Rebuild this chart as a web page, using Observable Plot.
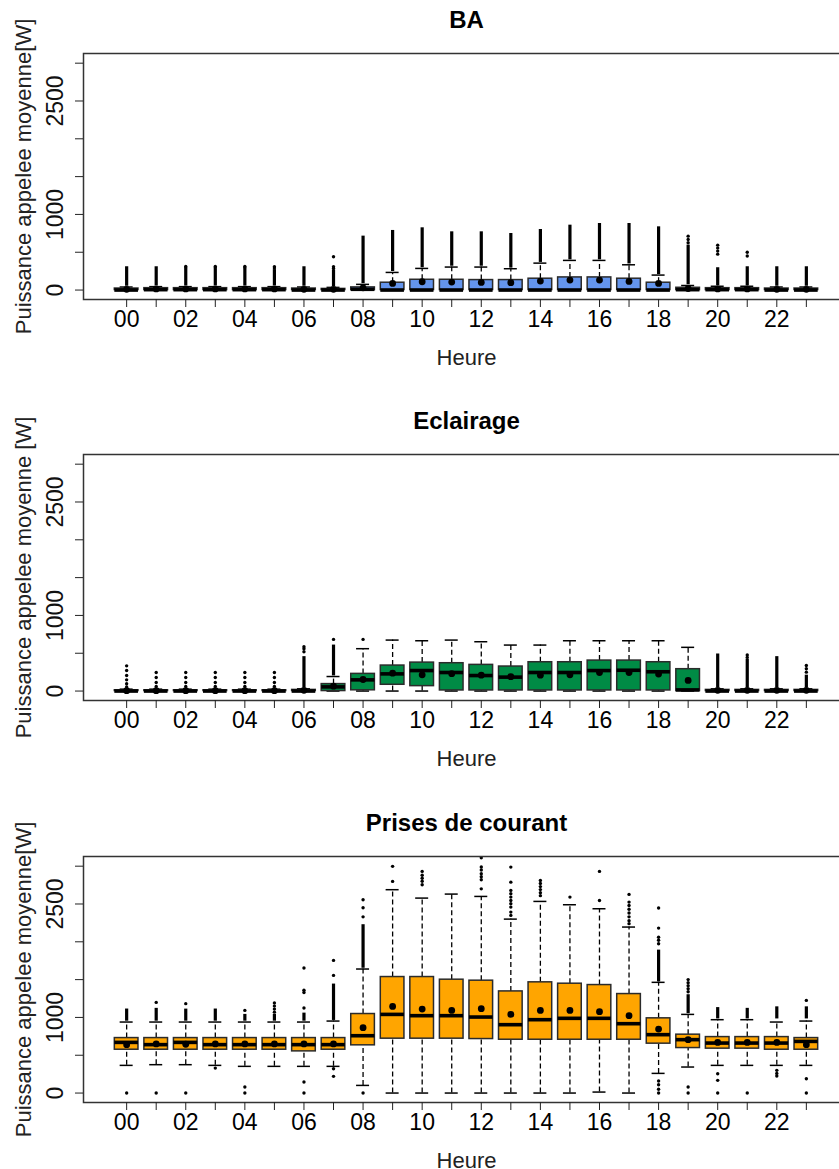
<!DOCTYPE html>
<html><head><meta charset="utf-8">
<script src="https://cdn.jsdelivr.net/npm/d3@7"></script>
<script src="https://cdn.jsdelivr.net/npm/@observablehq/plot@0.6"></script>
<style>
html,body{margin:0;padding:0;background:#fff;overflow:hidden;}
#root{width:839px;height:1169px;overflow:hidden;}
#root svg{display:block;max-width:none !important;}
</style></head><body><div id="root"></div>
<script>
const hours = ["00","01","02","03","04","05","06","07","08","09","10","11","12","13","14","15","16","17","18","19","20","21","22","23"];
const yTicks = [0,500,1000,1500,2000,2500,3000];
const yLabels = [0,1000,2500];

// BA
const baQ1   = [0,0,0,0,0,0,0,0,0, 0,0,0,0,0,0,0,0,0,0, 0,0,0,0,0];
const baMed  = [0,5,5,5,5,5,0,0,10, 0,0,0,0,0,0,0,0,0,0, 5,5,5,0,0];
const baQ3   = [20,25,25,25,25,25,20,15,35, 97,136,136,132,132,150,167,167,150,97, 30,25,25,20,20];
const baLo   = [0,0,0,0,0,0,0,0,0, 0,0,0,0,0,0,0,0,0,0, 0,0,0,0,0];
const baHi   = [40,45,45,45,45,45,40,35,75, 233,286,304,304,282,356,392,392,334,198, 60,50,50,40,40];
const baMean = [10,15,15,15,15,15,10,10,30, 88,110,106,101,97,119,132,132,114,88, 20,15,15,10,10];
const baRuns = [[0,50,308],[1,55,308],[2,55,280],[3,55,280],[4,55,280],[5,55,270],[6,50,308],[7,45,265],[8,85,713],[9,245,788],[10,295,823],[11,315,770],[12,315,770],[13,290,748],[14,365,801],[15,400,858],[16,400,880],[17,345,880],[18,205,836],[19,70,594],[20,60,295],[21,60,308],[22,50,308],[23,50,308]];
const baPoints = [[2,312],[2,296],[3,312],[3,296],[4,312],[4,296],[5,308],[5,290],[7,440],[7,308],[7,285],[19,713],[19,669],[19,625],[20,594],[20,555],[20,515],[20,475],[21,500],[21,450]];

// Eclairage
const ecQ1   = [0,0,0,0,0,0,0,0,10, 83,65,8,8,8,8,8,8,8,8, 0,0,0,0,0];
const ecMed  = [0,0,0,0,0,0,0,55,148, 227,271,245,205,184,245,245,271,275,255, 15,0,0,0,0];
const ecQ3   = [10,10,10,10,10,10,15,92,227, 337,376,368,346,324,381,381,403,403,381, 289,15,15,15,15];
const ecLo   = [0,0,0,0,0,0,0,0,0, 0,0,0,0,0,0,0,0,0,0, 0,0,0,0,0];
const ecHi   = [25,25,25,25,25,25,30,192,560, 674,665,674,652,608,608,665,665,665,665, 578,30,30,30,30];
const ecMean = [5,5,5,5,5,5,10,65,153, 236,214,230,210,190,210,215,245,245,225, 140,10,10,10,10];
const ecRuns = [[6,40,455],[7,200,608],[20,40,490],[21,40,420],[22,40,455],[23,40,210]];
const ecPoints = [[0,333],[0,271],[0,205],[0,148],[0,96],[0,53],
  [1,245],[1,179],[1,113],[1,60],[2,245],[2,179],[2,113],[2,60],[3,245],[3,179],[3,113],[3,60],
  [4,245],[4,179],[4,113],[4,60],[5,245],[5,179],[5,113],[5,60],
  [6,586],[6,560],[6,520],[7,683],[8,683],[21,477],[21,445],[23,337],[23,295],[23,250]];

// Prises de courant
const prQ1   = [573,573,573,573,573,573,551,573,631, 719,719,719,714,705,705,705,705,705,653, 595,587,587,573,573];
const prMed  = [670,640,670,640,640,640,640,640,758, 1040,1023,1023,1005,904,970,988,988,917,772, 706,661,661,661,683];
const prQ3   = [727,727,727,727,727,727,727,727,1045, 1534,1534,1499,1486,1344,1464,1446,1428,1309,988, 772,740,740,740,727];
const prLo   = [366,375,375,366,353,353,353,353,101, 0,0,0,0,0,0,0,13,0,260, 344,366,366,366,366];
const prHi   = [939,939,939,939,939,939,939,952,1640, 2689,2578,2631,2600,2300,2534,2490,2437,2195,1464, 1040,970,970,939,952];
const prMean = [640,650,645,650,650,650,650,650,864, 1146,1111,1093,1116,1040,1093,1093,1076,1023,846, 706,670,670,670,639];
const prRuns = [[0,950,1111],[1,950,1120],[2,950,1110],[3,950,1111],[4,950,1040],[5,950,1040],[6,950,1057],[7,960,1441],[8,1650,2226],[18,1470,1890],[19,1050,1300],[20,980,1130],[21,980,1120],[22,980,1140],[23,980,1140]];
const prPoints = [[0,0],[1,1199],[1,0],[2,1182],[2,0],[3,330],[4,1093],[4,79],[4,0],[5,1190],[5,1150],[5,1110],[5,1070],
  [6,1653],[6,1360],[6,1330],[6,1124],[6,146],[6,0],[7,1754],[7,1556],[7,322],[7,221],[8,2556],[8,2450],[8,2330],[8,0],
  [9,2799],[9,2998],[10,2931],[10,2880],[10,2840],[10,2800],[10,2755],
  [12,3110],[12,2990],[12,2950],[12,2900],[12,2860],[12,2820],[12,2700],
  [13,2988],[13,2789],[13,2680],[13,2636],[13,2591],[13,2547],[13,2503],[13,2459],[13,2393],[13,2349],
  [14,2810],[14,2770],[14,2730],[14,2690],[14,2650],[14,2610],[15,2591],[16,2931],[16,2547],
  [17,2627],[17,2525],[17,2480],[17,2430],[17,2380],[17,2330],[17,2280],[17,2240],
  [18,2446],[18,2181],[18,2060],[18,2020],[18,1975],[18,160],[18,110],[18,50],[18,0],
  [19,1500],[19,1460],[19,1420],[19,1380],[19,1340],[19,79],[19,0],[20,256],[20,168],[20,0],[21,0],
  [22,300],[22,260],[22,225],[23,1225],[23,190],[23,0]];

const panels = [
  {title:"BA", ytitle:"Puissance appelee moyenne[W]", fill:"#6495ED", q1:baQ1, med:baMed, q3:baQ3, lo:baLo, hi:baHi, mean:baMean, runs:baRuns, points:baPoints, height:401},
  {title:"Eclairage", ytitle:"Puissance appelee moyenne [W]", fill:"#008B45", q1:ecQ1, med:ecMed, q3:ecQ3, lo:ecLo, hi:ecHi, mean:ecMean, runs:ecRuns, points:ecPoints, height:402},
  {title:"Prises de courant", ytitle:"Puissance appelee moyenne[W]", fill:"#FFA500", q1:prQ1, med:prMed, q3:prQ3, lo:prLo, hi:prHi, mean:prMean, runs:prRuns, points:prPoints, height:366}
];

const BOX = 0.4, CAP = 0.22;
const root = document.getElementById("root");

for (const p of panels) {
  const rows = hours.map((lab, i) => ({h: i, q1: p.q1[i], med: p.med[i], q3: p.q3[i], lo: p.lo[i], hi: p.hi[i], mean: p.mean[i]}));
  const runs = p.runs.map(([h, a, b]) => ({h, a, b}));
  const pts = p.points.map(([h, v]) => ({h, v}));
  const chart = Plot.plot({
    width: 849,
    height: p.height,
    marginLeft: 83,
    marginRight: 0,
    marginTop: 53,
    marginBottom: p.height - 299,
    style: {fontFamily: "'Liberation Sans', Arial, sans-serif", fontSize: "23px", color: "#000", background: "#fff", overflow: "visible", maxWidth: "none", height: p.height + "px"},
    x: {type: "linear", domain: [-1.46, 24.46]},
    y: {type: "linear", domain: [-125, 3128]},
    marks: [
      // whiskers (dashed)
      Plot.ruleX(rows, {x: "h", y1: "q3", y2: "hi", stroke: "#000", strokeWidth: 1.3, strokeDasharray: "5,3"}),
      Plot.ruleX(rows, {x: "h", y1: "lo", y2: "q1", stroke: "#000", strokeWidth: 1.3, strokeDasharray: "5,3"}),
      // staples
      Plot.ruleY(rows, {y: "hi", x1: d => d.h - CAP, x2: d => d.h + CAP, stroke: "#000", strokeWidth: 1.5}),
      Plot.ruleY(rows, {y: "lo", x1: d => d.h - CAP, x2: d => d.h + CAP, stroke: "#000", strokeWidth: 1.5}),
      // outliers
      Plot.ruleX(runs, {x: "h", y1: "a", y2: "b", stroke: "#000", strokeWidth: 3.2}),
      Plot.dot(pts, {x: "h", y: "v", r: 1.7, fill: "#000", stroke: null}),
      // boxes
      Plot.rect(rows, {x1: d => d.h - BOX, x2: d => d.h + BOX, y1: "q1", y2: "q3", fill: p.fill, stroke: "#2b2b2b", strokeWidth: 1.5}),
      Plot.ruleY(rows, {y: "med", x1: d => d.h - BOX, x2: d => d.h + BOX, stroke: "#000", strokeWidth: 3.6}),
      Plot.dot(rows, {x: "h", y: "mean", r: 3.4, fill: "#000", stroke: null}),
      Plot.frame({stroke: "#333", strokeWidth: 1.5}),
      // axes
      Plot.axisX({ticks: hours.map((d, i) => i), tickSize: 8, tickPadding: 3, label: null, tickFormat: i => (i % 2 === 0 ? hours[i] : ""), fontSize: 23, stroke: "#222"}),
      Plot.axisY({ticks: yTicks, tickSize: 8, label: null, tickFormat: () => "", stroke: "#222"}),
      Plot.text(yLabels, {y: d => d, text: d => String(d), frameAnchor: "left", textAnchor: "middle", lineAnchor: "middle", dx: -28, rotate: -90, fontSize: 23, fill: "#111"}),
      Plot.text([p.ytitle], {text: d => d, frameAnchor: "left", textAnchor: "middle", lineAnchor: "middle", dx: -60, rotate: -90, fontSize: 22, fill: "#222"}),
      Plot.text([p.title], {text: d => d, frameAnchor: "top", textAnchor: "middle", lineAnchor: "middle", dy: -33, fontSize: 24, fontWeight: "bold", fill: "#000"}),
      Plot.text(["Heure"], {text: d => d, frameAnchor: "bottom", textAnchor: "middle", lineAnchor: "middle", dy: 58, fontSize: 22, fill: "#222"})
    ]
  });
  root.appendChild(chart);
}
</script>
</body></html>
